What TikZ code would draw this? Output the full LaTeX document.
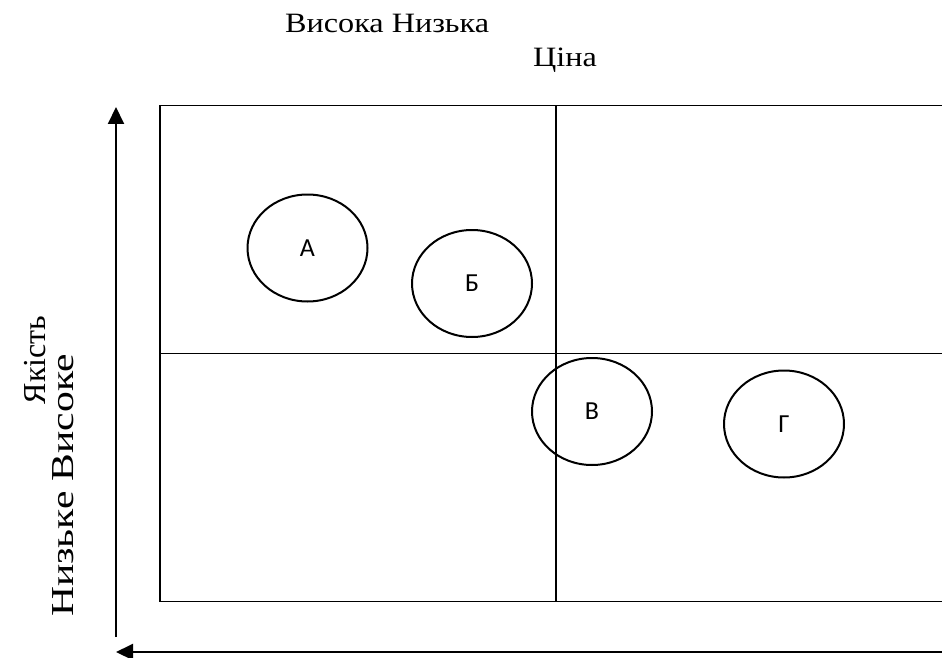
\documentclass[tikz,border=0pt]{standalone}
\usepackage{fontspec}
\usepackage{graphicx}
\setmainfont{Liberation Serif}
\newfontfamily\lblfont{Carlito}
\usetikzlibrary{shapes.geometric,arrows.meta}
\tikzset{
  grid line/.style={line width=1.5pt},
  axis arrow/.style={line width=2pt,-{Triangle[length=17pt,width=16pt]}},
  bubble/.style={ellipse,draw,line width=2pt,inner sep=0pt,minimum width=120pt,minimum height=107pt,font=\lblfont\fontsize{26}{30}\selectfont},
  top text/.style={font=\fontsize{28}{33}\selectfont,inner sep=0pt},
  side text/.style={font=\fontsize{32}{38}\selectfont,inner sep=0pt}
}
\begin{document}
\begin{tikzpicture}[x=1pt,y=-1pt]
\useasboundingbox (0,0) rectangle (942,658);
\fill[white] (0,0) rectangle (942,658);
\begin{scope}
\clip (0,0) rectangle (942,658);
% quadrant grid
\draw[grid line] (160,105.5) rectangle (952,601.5);
\draw[grid line] (160,353.5) -- (952,353.5);
\draw[grid line] (556,105.5) -- (556,601.5);
% axes
\coordinate (vstart) at (116,637);
\coordinate (vend) at (116,107);
\coordinate (hstart) at (950,652);
\coordinate (hend) at (116,652);
\draw[axis arrow] (vstart) -- (vend);
\draw[axis arrow] (hstart) -- (hend);
\end{scope}
% bubbles
\node[bubble] (a) at (307.5,248) {А};
\node[bubble] (b) at (472,283.5) {Б};
\node[bubble] (v) at (592,411.5) {В};
\node[bubble] (g) at (784,424) {Г};
% axis texts
\node[top text,anchor=base west] (price1) at (285,33) {\scalebox{1.15}[1]{Висока Низька}};
\node[top text,anchor=base west] (price2) at (533,67) {\scalebox{1.15}[1]{Ціна}};
\node[side text,anchor=base,rotate=90] (qual1) at (45,360) {Якість};
\node[side text,anchor=base,rotate=90] (qual2) at (73,485.5) {\scalebox{1.3}[1]{Низьке Високе}};
\end{tikzpicture}
\end{document}
